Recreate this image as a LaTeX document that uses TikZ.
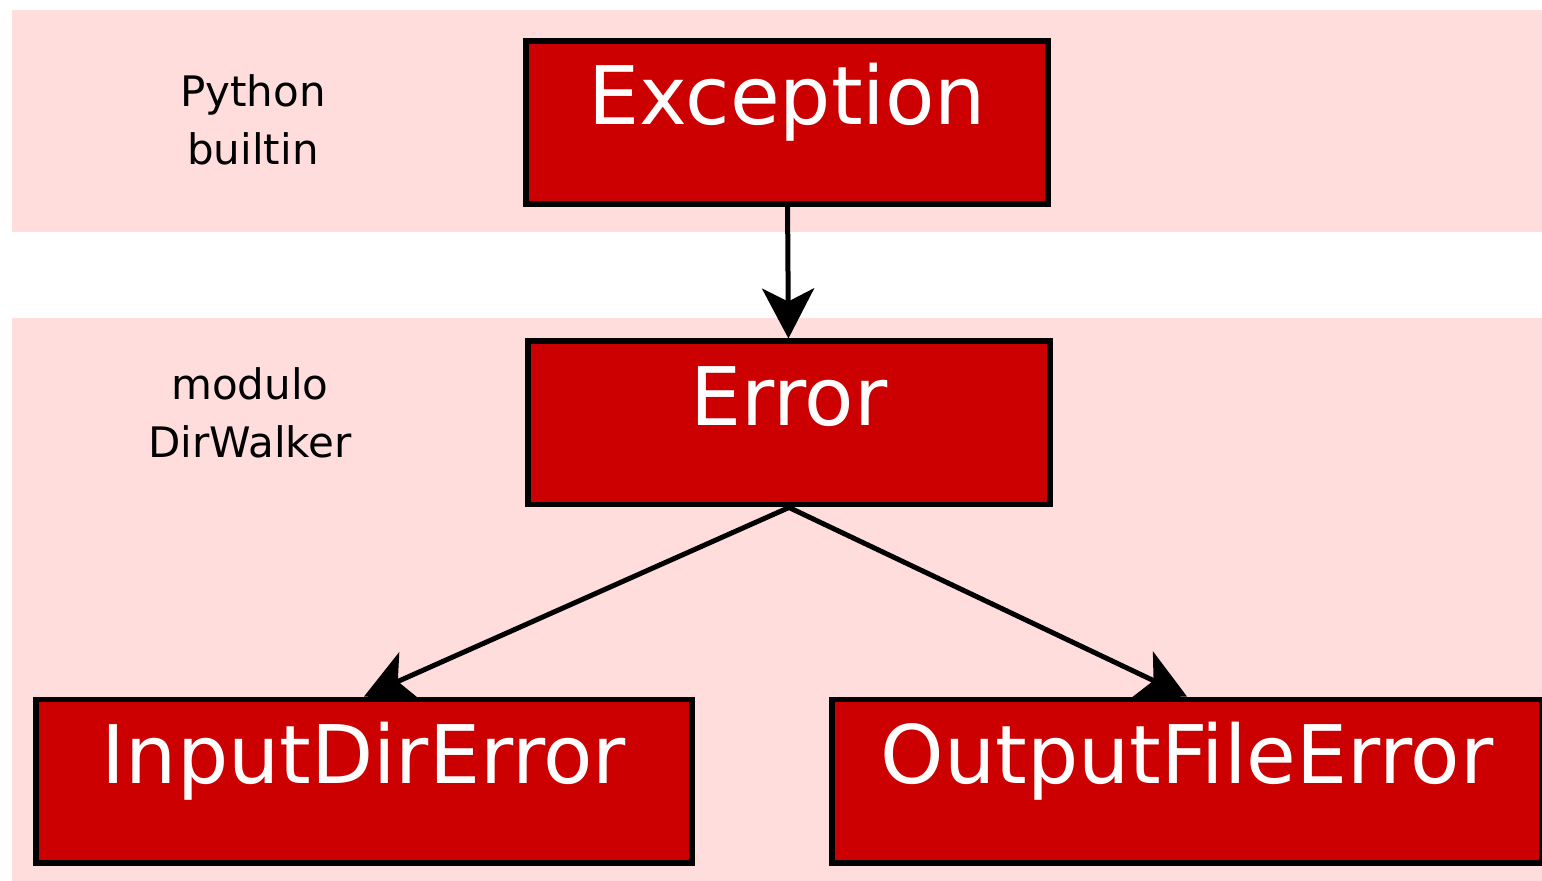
\documentclass[tikz,border=0pt]{standalone}
\usepackage{fontspec}
\setmainfont{DejaVu Sans}
\usetikzlibrary{arrows.meta}
\definecolor{bandpink}{RGB}{255,221,221}
\definecolor{boxred}{RGB}{204,0,0}
\begin{document}
\begin{tikzpicture}
[x=0.5pt, y=-0.5pt, >={Stealth[length=25pt, width=26pt, inset=6.5pt]},
 box/.style={draw, line width=2.8pt, fill=boxred, text=white, inner sep=0, minimum height=81.7pt, text height=42pt, text depth=39.7pt, font=\fontsize{40.4}{48}\selectfont},
 group/.style={align=center, font=\fontsize{21}{29}\selectfont}]
\useasboundingbox (0, 0) rectangle (1542, 881);
\fill [white] (0, 0) rectangle (1542, 881);
\fill [bandpink] (12, 10) rectangle (1542, 232);
\fill [bandpink] (12, 318) rectangle (1542, 881);
\node (py) [group] at (253, 120) {Python\\builtin};
\node (mod) [group] at (250, 413) {modulo\\DirWalker};
\node (exc) [box, minimum width=261.2pt] at (787, 122.5) {Exception};
\node (err) [box, minimum width=261.2pt] at (789, 423) {Error};
\node (ide) [box, minimum width=328.2pt] at (364, 781) {InputDirError};
\node (ode) [box, minimum width=355.2pt] at (1187, 781) {OutputFileError};
\draw [->, line width=2.5pt] (exc) -- (err);
\draw [->, line width=2.5pt] (err.south) -- (ide.north);
\draw [->, line width=2.5pt] (err.south) -- (ode.north);
\end{tikzpicture}
\end{document}
